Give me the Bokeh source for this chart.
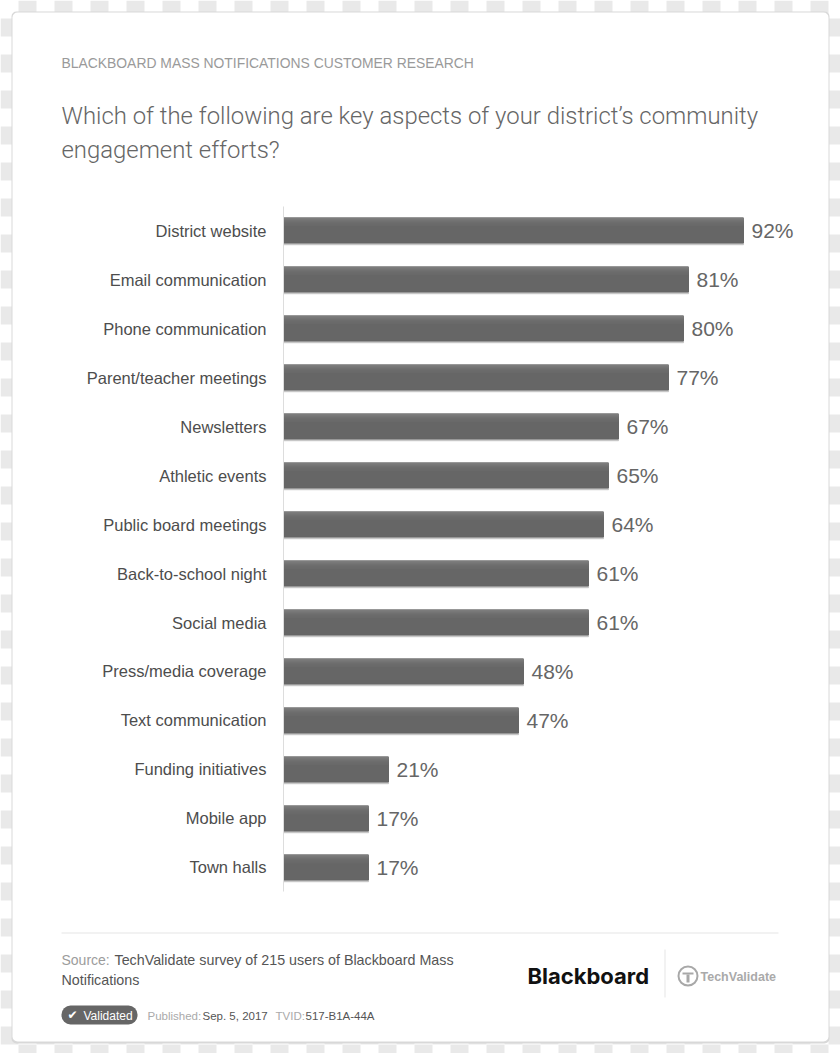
from bokeh.plotting import figure
from bokeh.models import Range1d, LinearAxis, FixedTicker, ColumnDataSource
from bokeh.core.properties import value
from bokeh.transform import dodge
from bokeh.embed import file_html
from bokeh.resources import INLINE

categories = ["District website", "Email communication", "Phone communication",
              "Parent/teacher meetings", "Newsletters", "Athletic events",
              "Public board meetings", "Back-to-school night", "Social media",
              "Press/media coverage", "Text communication", "Funding initiatives",
              "Mobile app", "Town halls"]
percent = [92, 81, 80, 77, 67, 65, 64, 61, 61, 48, 47, 21, 17, 17]
percent_labels = [f"{v}%" for v in percent]

kicker = "BLACKBOARD MASS NOTIFICATIONS CUSTOMER RESEARCH"
title_lines = ["Which of the following are key aspects of your district\u2019s community",
               "engagement efforts?"]

W, H = 840, 1053
FONT = "Liberation Sans"
LIGHT = "Roboto Light, Liberation Sans"
rows = list(range(len(categories)))
src = ColumnDataSource(dict(row=rows, val=percent, lab=percent_labels))

p = figure(width=W, height=H, output_backend="svg", toolbar_location=None,
           x_range=Range1d(-56.6, 111.4), y_range=Range1d(16.796, -4.694),
           x_axis_location=None, y_axis_location=None,
           min_border=0, min_border_left=0, min_border_right=0, min_border_top=0, min_border_bottom=0)
p.background_fill_color = "#ffffff"
p.border_fill_color = "#ffffff"
p.outline_line_color = None
p.grid.visible = False
p.extra_x_ranges["px"] = Range1d(0, W)
p.extra_y_ranges["px"] = Range1d(H, 0)


def box(x0, y0, x1, y1, fill, radius=0, line=None, line_width=1, alpha=1.0):
    p.quad(left=[x0], right=[x1], top=[y0], bottom=[y1], fill_color=fill, fill_alpha=alpha,
           line_color=line, line_width=line_width, border_radius=radius,
           x_range_name="px", y_range_name="px")


def text(x, y, s, size, color, bold=False, font=FONT):
    p.text(x=[x], y=[y], text=[s], text_font=value(font), text_font_size=f"{size}px",
           text_color=color, text_font_style="bold" if bold else "normal",
           text_baseline="middle", text_align="left", x_range_name="px", y_range_name="px")


# checkerboard page background, visible only around the card
CELL = 18
L, R, T, B = [], [], [], []
for r in range(0, 59):
    for c in range(0, 47):
        if (r + c) % 2 == 1:
            x0, y0 = c * CELL, r * CELL
            x1, y1 = x0 + CELL, y0 + CELL
            if x0 >= 12 and x1 <= 828 and y0 >= 12 and y1 <= 1041:
                continue
            L.append(x0); R.append(x1); T.append(y0); B.append(y1)
p.quad(left=L, right=R, top=T, bottom=B, fill_color="#e9e9e9", line_color=None,
       x_range_name="px", y_range_name="px")

# card with soft shadow
box(11, 11, 829, 1043, "#d8d8d8", radius=5)
box(12, 12, 828, 1041, "#ffffff", radius=5)

# bars (base, lighter top strips, shadow beneath)
p.hbar(y=dodge("row", 0.275, range=None), right="val", left=0, height=0.03, source=src, color="#c4c4c4")
p.hbar(y="row", right="val", left=0, height=0.51, source=src, color="#666666")
p.hbar(y=dodge("row", -0.235, range=None), right="val", left=0, height=0.04, source=src, color="#7d7d7d")
p.hbar(y=dodge("row", -0.195, range=None), right="val", left=0, height=0.04, source=src, color="#747474")
p.hbar(y=dodge("row", -0.155, range=None), right="val", left=0, height=0.04, source=src, color="#6e6e6e")
p.hbar(y=dodge("row", -0.115, range=None), right="val", left=0, height=0.04, source=src, color="#6a6a6a")

p.text(x="val", y="row", text="lab", source=src, x_offset=8, text_baseline="middle",
       text_font=value(FONT), text_font_size="21px", text_color="#666666")

# category axis sitting on the zero line
ax = LinearAxis(fixed_location=0, ticker=FixedTicker(ticks=rows),
                major_label_overrides={i: c for i, c in zip(rows, categories)},
                bounds=(-0.49, 13.49))
ax.axis_line_color = "#dddddd"
ax.axis_line_width = 1
ax.major_tick_line_color = None
ax.minor_tick_line_color = None
ax.major_label_standoff = 11
ax.major_label_text_font = FONT
ax.major_label_text_font_size = "16.5px"
ax.major_label_text_color = "#4d4d4d"
p.add_layout(ax, "left")

# header
text(61, 62, kicker, 13.9, "#9a9a9a")
text(61, 115, title_lines[0], 23.9, "#666666", font=LIGHT)
text(61, 149, title_lines[1], 23.9, "#666666", font=LIGHT)

# footer
box(61, 932, 778, 933, "#e6e6e6")
text(61, 959, "Source:", 14, "#9c9c9c")
text(114, 959, "TechValidate survey of 215 users of Blackboard Mass", 14.3, "#555555")
text(61, 979, "Notifications", 14.3, "#555555")

box(61, 1005, 137, 1024, "#666666", radius=9)
text(67, 1014, "\u2714", 12, "#ffffff", font="DejaVu Sans")
text(83, 1015, "Validated", 12, "#ffffff")
text(147, 1015, "Published:", 11.5, "#aaaaaa")
text(202, 1015, "Sep. 5, 2017", 11.5, "#555555")
text(275, 1015, "TVID:", 11.5, "#aaaaaa")
text(305, 1015, "517-B1A-44A", 11.5, "#555555")

# logos
text(527, 975, "Blackboard", 22, "#111111", bold=True, font="Inter")
box(664, 949, 665, 997, "#e6e6e6")
box(678, 966, 697, 985, None, radius=10, line="#a8a8a8", line_width=2)
box(682, 972, 693, 974, "#a8a8a8")
box(686, 974, 689, 982, "#a8a8a8")
text(700, 976, "TechValidate", 12.5, "#aaaaaa", bold=True)

open("out.html", "w").write(file_html(p, INLINE))
